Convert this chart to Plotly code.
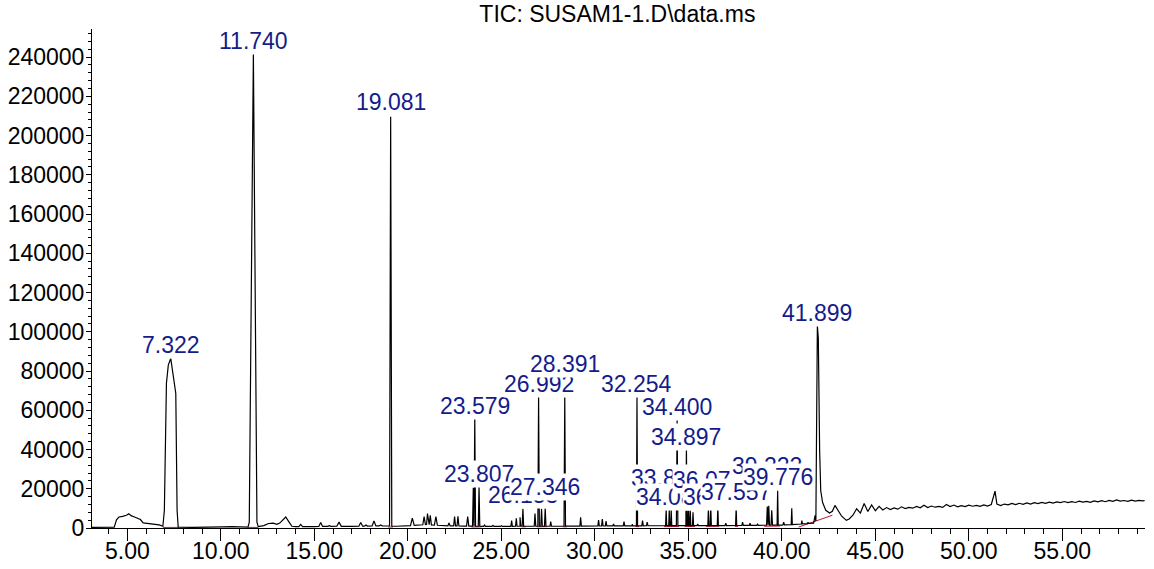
import numpy as np
import plotly.graph_objects as go

# ---------------- data ----------------
# Slowly varying signal and broad peaks: (retention time [min], abundance)
base_t = [3.05, 4.30, 4.42, 4.55, 4.75, 4.95, 5.08, 5.20, 5.35, 5.50, 5.70, 5.85,
          6.10, 6.40, 6.70, 6.90, 6.98, 7.09, 7.19, 7.32, 7.45, 7.59, 7.66, 7.72,
          8.50, 9.50, 10.10, 10.60, 11.10, 11.45, 11.52, 11.74, 11.93, 12.00,
          12.30, 12.55, 12.80, 13.00, 13.15, 13.30, 13.47, 13.65, 13.80, 14.00,
          15.00, 16.00, 17.00, 18.00, 18.80, 19.40, 20.00, 21.00, 21.70, 22.00,
          23.00, 24.50, 26.00, 28.00, 30.00, 32.00, 34.00, 36.00, 38.00, 40.00,
          41.00, 41.70, 41.78, 41.82, 41.899, 41.95, 42.02, 42.08, 42.18, 42.35,
          42.55, 42.70, 42.84, 43.00, 43.20, 43.45, 43.60]
base_i = [300, 400, 4200, 5600, 5900, 6500, 7300, 6300, 5700, 5000, 4300, 2600,
          2300, 1900, 1600, 900, 9000, 73800, 83000, 86400, 78500, 68700, 9000, 400,
          300, 300, 600, 700, 300, 400, 3000, 242000, 3000, 700,
          1200, 2300, 2500, 1900, 2500, 4000, 5600, 3000, 900, 700,
          700, 900, 800, 1000, 1100, 900, 1100, 1800, 1300, 1100,
          1000, 800, 900, 900, 1000, 1100, 1200, 1200, 1300, 1500,
          2000, 2500, 6400, 3500, 102900, 97000, 40000, 19000, 13000, 9000,
          7600, 8500, 11500, 8800, 6000, 3900, 4600]

# Column bleed after the last eluting peak
tail_t = [43.8, 44.0, 44.2, 44.4, 44.6, 44.8, 45.0, 45.2, 45.4, 45.6, 45.8, 46.0,
          46.2, 46.4, 46.6, 46.8, 47.0, 47.2, 47.4, 47.6, 47.8, 48.0, 48.2, 48.4,
          48.6, 48.8, 49.0, 49.2, 49.4, 49.6, 49.8, 50.0, 50.2, 50.4, 50.6, 50.8,
          51.0, 51.2, 51.4, 51.5, 51.7, 51.9, 52.1, 52.3, 52.5, 52.7, 52.9, 53.1,
          53.3, 53.5, 53.7, 53.9, 54.1, 54.3, 54.5, 54.7, 54.9, 55.1, 55.3, 55.5,
          55.7, 55.9, 56.1, 56.3, 56.5, 56.7, 56.9, 57.1, 57.3, 57.5, 57.7, 57.9,
          58.1, 58.3, 58.5, 58.7, 58.9, 59.1, 59.3, 59.4]
tail_i = [6500, 9800, 7600, 12500, 8400, 11800, 8800, 11000, 9200, 10400, 9400, 10200,
          9600, 10800, 9900, 10500, 10100, 11000, 10300, 11600, 10400, 11200, 10600, 11000,
          10500, 12000, 10900, 11700, 10800, 11400, 10900, 11600, 11100, 11500, 11000, 11800,
          11200, 12000, 18800, 12200, 11400, 12200, 11800, 12500, 11900, 12600, 12100, 12800,
          12200, 12900, 12400, 13000, 12600, 13200, 12700, 13300, 12900, 13500, 12900, 13400,
          13000, 13700, 13200, 13600, 13100, 13800, 13300, 13900, 13400, 14100, 13600, 14300,
          13700, 14000, 13600, 14200, 13700, 14100, 13800, 13900]

# Narrow peaks: apex retention time, apex abundance, half width at the base
peak_rt = [14.27, 15.34, 15.80, 16.32, 17.48, 17.76, 18.19, 18.55, 19.081, 19.60,
           20.24, 20.87, 21.05, 21.20, 21.50, 22.20, 22.50, 22.68, 23.20, 23.50,
           23.579, 23.807, 24.10, 24.55, 25.00, 25.55, 25.80, 26.00, 26.153, 26.80,
           26.992, 27.15, 27.346, 27.64, 28.391, 29.24, 30.20, 30.40, 30.60, 31.00,
           31.56, 32.00, 32.254, 32.55, 32.80, 33.10, 33.813, 33.98, 34.083, 34.400,
           34.897, 35.00, 35.10, 35.25, 35.50, 36.073, 36.20, 36.577, 37.00, 37.557,
           37.90, 38.30, 38.70, 39.222, 39.30, 39.46, 39.776, 40.10, 40.53, 41.07,
           41.40]
peak_height = [1800, 2800, 1200, 3000, 2800, 1500, 3600, 1500, 209600, 1200,
               5000, 5800, 7400, 6500, 5800, 2500, 5800, 6000, 5800, 20500,
               56400, 21000, 1500, 1300, 1200, 3800, 5000, 5500, 9800, 7400,
               67600, 9800, 10000, 3300, 67600, 5500, 4000, 4500, 3500, 2000,
               3300, 2000, 67000, 3800, 3000, 1500, 9400, 9400, 9400, 55000,
               41000, 10000, 10000, 8000, 2000, 10600, 10600, 10600, 2500, 10600,
               3000, 2500, 2000, 11000, 11500, 9000, 19100, 3000, 10000, 3800,
               3000]
peak_hw = [0.10, 0.10, 0.08, 0.12, 0.10, 0.08, 0.10, 0.08, 0.06, 0.08,
           0.10, 0.07, 0.07, 0.06, 0.08, 0.06, 0.05, 0.05, 0.06, 0.04,
           0.04, 0.04, 0.05, 0.05, 0.05, 0.04, 0.04, 0.04, 0.04, 0.04,
           0.04, 0.04, 0.04, 0.04, 0.04, 0.04, 0.04, 0.04, 0.04, 0.04,
           0.04, 0.03, 0.03, 0.04, 0.04, 0.04, 0.03, 0.03, 0.03, 0.04,
           0.03, 0.03, 0.03, 0.03, 0.04, 0.03, 0.03, 0.03, 0.04, 0.03,
           0.04, 0.04, 0.04, 0.04, 0.04, 0.04, 0.03, 0.04, 0.03, 0.03,
           0.03]

# Integration baselines (start rt, end rt, start abundance, end abundance)
int_t0 = [6.90, 11.45, 18.95, 23.40, 26.08, 26.90, 28.30, 32.18, 33.70, 34.80, 35.95, 37.48, 39.05, 40.90]
int_t1 = [7.75, 12.00, 19.20, 23.95, 26.30, 27.45, 28.50, 32.36, 34.50, 35.35, 36.65, 37.66, 39.90, 42.70]
int_i0 = [300, 300, 500, 500, 600, 600, 600, 700, 700, 800, 800, 800, 900, 500]
int_i1 = [300, 300, 500, 600, 600, 700, 600, 700, 800, 800, 900, 800, 1000, 6500]

# Peak labels (retention time text)
label_rt = [7.322, 11.740, 19.081, 23.579, 23.807, 26.153, 26.992, 27.346, 28.391,
            32.254, 33.813, 34.083, 34.400, 34.897, 36.073, 36.577, 37.557,
            39.222, 39.776, 41.899]

# ---------------- build the signal ----------------
pts_t = list(base_t) + list(tail_t)
pts_i = list(base_i) + list(tail_i)
all_bt = np.array(pts_t)
all_bi = np.array(pts_i)
order = np.argsort(all_bt)
all_bt, all_bi = all_bt[order], all_bi[order]
for rt, h, hw in zip(peak_rt, peak_height, peak_hw):
    foot_l = float(np.interp(rt - hw, all_bt, all_bi))
    foot_r = float(np.interp(rt + hw, all_bt, all_bi))
    pts_t += [rt - hw, rt, rt + hw]
    pts_i += [foot_l, h, foot_r]
sig_t = np.array(pts_t)
sig_i = np.array(pts_i)
o = np.argsort(sig_t, kind="stable")
sig_t, sig_i = sig_t[o], sig_i[o]

red_x, red_y = [], []
for a, b, ya, yb in zip(int_t0, int_t1, int_i0, int_i1):
    red_x += [a, b, None]
    red_y += [ya, yb, None]

# ---------------- figure ----------------
FONT = "Liberation Sans, Arial, sans-serif"
LABEL_BLUE = "#141c8a"

fig = go.Figure()
fig.add_trace(go.Scatter(x=red_x, y=red_y, mode="lines",
                         line=dict(color="#c8102e", width=1), hoverinfo="skip"))
fig.add_trace(go.Scatter(x=sig_t, y=sig_i, mode="lines",
                         line=dict(color="black", width=1.2)))

# vertical placement of each label (label centre, abundance units)
label_level = {
    7.322: 93200, 11.740: 248400, 19.081: 217300, 23.579: 62000, 23.807: 27300,
    26.153: 16600, 26.992: 73300, 27.346: 20700, 28.391: 83500, 32.254: 73300,
    33.813: 25300, 34.083: 15600, 34.400: 61500, 34.897: 46200, 36.073: 24300,
    36.577: 15600, 37.557: 18100, 39.222: 31400, 39.776: 25800, 41.899: 109500,
}
for rt in label_rt:
    fig.add_annotation(x=rt, y=label_level[rt], xref="x", yref="y",
                       text=f"{rt:.3f}", showarrow=False,
                       xanchor="center", yanchor="middle",
                       bgcolor="white", borderpad=0,
                       font=dict(family=FONT, size=23, color=LABEL_BLUE))

fig.update_layout(
    width=1154, height=569,
    margin=dict(l=92, r=9, t=29, b=41, autoexpand=False),
    paper_bgcolor="white", plot_bgcolor="white",
    showlegend=False,
    font=dict(family=FONT, size=23, color="black"),
    title=dict(text="TIC: SUSAM1-1.D\\data.ms", x=0.535, xanchor="center",
               y=0.975, yanchor="middle",
               font=dict(family=FONT, size=23, color="black")),
)
fig.update_xaxes(range=[3.11, 59.42], automargin=False,
                 showline=True, linecolor="black", linewidth=1,
                 ticks="outside", ticklen=12, tickwidth=1, tickcolor="black",
                 tick0=0, dtick=5, tickformat=".2f", showgrid=False, zeroline=False,
                 ticklabelstandoff=-10,
                 minor=dict(ticks="outside", ticklen=5, tick0=0, dtick=1,
                            tickcolor="black", showgrid=False))
fig.update_yaxes(range=[0, 254300], automargin=False,
                 showline=True, linecolor="black", linewidth=1,
                 ticks="outside", ticklen=5, tickwidth=1, tickcolor="black",
                 tick0=0, dtick=20000, tickformat="d", showgrid=False, zeroline=False,
                 ticklabelstandoff=-3,
                 minor=dict(ticks="outside", ticklen=3, tick0=0, dtick=4000,
                            tickcolor="black", showgrid=False))

fig.write_html("out.html")
